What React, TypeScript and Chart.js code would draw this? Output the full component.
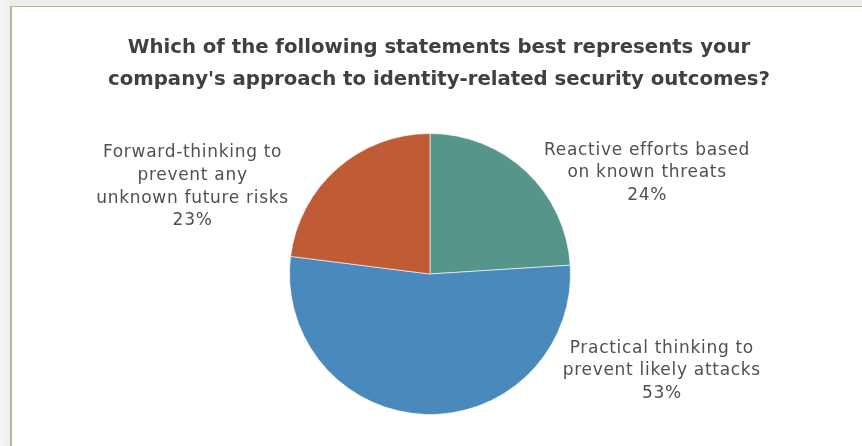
import React, { useEffect, useRef } from "react";
import { Chart, registerables } from "chart.js";

Chart.register(...registerables);

const titleLines = [
  "Which of the following statements best represents your",
  "company's approach to identity-related security outcomes?",
];
const categories = [
  ["Reactive efforts based", "on known threats"],
  ["Practical thinking to", "prevent likely attacks"],
  ["Forward-thinking to", "prevent any", "unknown future risks"],
];
const values = [24, 53, 23];
const colors = ["#56958a", "#4a89bb", "#c05c35"];

// label block centre offsets, relative to pie centre, in units of the radius
const labelOffsets = [
  [1.545, -0.72],
  [1.65, 0.69],
  [-1.69, -0.62],
];

const labelFont = "DejaVu Sans";

const titlePlugin = {
  id: "centredTitle",
  afterDraw(chart: any) {
    const ctx = chart.ctx;
    ctx.save();
    ctx.font = `bold 19.7px "DejaVu Sans"`;
    ctx.fillStyle = "#404040";
    ctx.textAlign = "center";
    ctx.textBaseline = "middle";
    const cx = chart.width / 2 + 2;
    titleLines.forEach((l, k) => ctx.fillText(l, cx, 40 + k * 32));
    ctx.restore();
  },
};

const labelPlugin = {
  id: "sliceLabels",
  afterDatasetsDraw(chart: any) {
    const ctx = chart.ctx;
    const meta = chart.getDatasetMeta(0);
    const total = values.reduce((a, b) => a + b, 0);
    ctx.save();
    ctx.font = `17px "${labelFont}"`;
    try {
      (ctx as any).letterSpacing = "0.7px";
    } catch (e) {}
    ctx.fillStyle = "#505050";
    ctx.textAlign = "center";
    ctx.textBaseline = "middle";
    meta.data.forEach((arc: any, i: number) => {
      const { x, y, outerRadius } = arc.getProps(["x", "y", "outerRadius"], true);
      const lines = [...categories[i], Math.round((values[i] / total) * 100) + "%"];
      const lh = 22.6;
      const cx = x + labelOffsets[i][0] * outerRadius;
      const cy = y + labelOffsets[i][1] * outerRadius;
      const top = cy - ((lines.length - 1) * lh) / 2;
      lines.forEach((l, k) => ctx.fillText(l, cx, top + k * lh));
    });
    ctx.restore();
  },
};

export default function App() {
  const ref = useRef<HTMLCanvasElement>(null);
  useEffect(() => {
    document.body.style.margin = "0";
    const chart = new Chart(ref.current!, {
      type: "pie",
      data: {
        labels: categories as any,
        datasets: [
          {
            data: values,
            backgroundColor: colors,
            borderColor: "rgba(255,255,255,0.6)",
            borderWidth: 1,
          },
        ],
      },
      options: {
        animation: false,
        responsive: false,
        layout: { padding: { top: 125, bottom: 31, left: 0, right: 14 } },
        plugins: {
          legend: { display: false },
          tooltip: { enabled: false },
          title: { display: false },
        },
      },
      plugins: [labelPlugin, titlePlugin],
    });
    return () => chart.destroy();
  }, []);
  return (
    <div
      style={{
        position: "fixed",
        left: 0,
        top: 0,
        width: 862,
        height: 446,
        overflow: "hidden",
        background: "linear-gradient(to right, #f7f7f7 0px, #eeeeee 10px)",
      }}
    >
      <div
        style={{
          position: "absolute",
          left: 10,
          top: 6,
          width: 870,
          height: 460,
          background: "#ffffff",
          borderLeft: "2px solid #bdb29c",
          borderTop: "1px solid #bdb29c",
        }}
      />
      <canvas
        ref={ref}
        width={850}
        height={438}
        style={{ position: "absolute", left: 12, top: 8, width: 850, height: 438 }}
      />
    </div>
  );
}
